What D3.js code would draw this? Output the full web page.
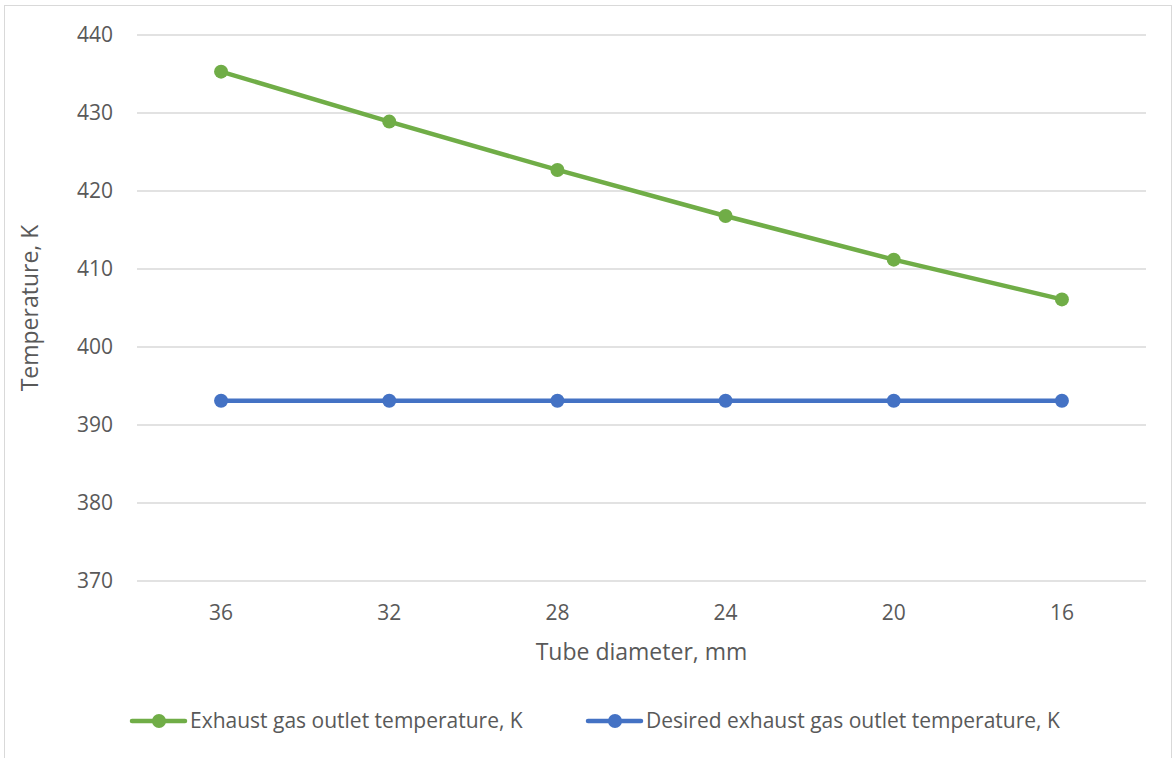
<!DOCTYPE html>
<html>
<head>
<meta charset="utf-8">
<script src="https://cdn.jsdelivr.net/npm/d3@7"></script>
<style>
  body { margin: 0; background: #fff; }
  svg { display: block; font-family: "Open Sans", "Liberation Sans", sans-serif; }
</style>
</head>
<body>
<div id="chart"></div>
<script>
let width = 1172;
let height = 758;

// data
let diameters = ["36", "32", "28", "24", "20", "16"];
let exhaustTemp = [435.3, 428.9, 422.7, 416.8, 411.2, 406.1];
let desiredTemp = [393.1, 393.1, 393.1, 393.1, 393.1, 393.1];
let yTicks = [370, 380, 390, 400, 410, 420, 430, 440];

let series = [
    {name: "Exhaust gas outlet temperature, K", values: exhaustTemp, color: "#70AD47"},
    {name: "Desired exhaust gas outlet temperature, K", values: desiredTemp, color: "#4472C4"}
];

let margin = {left: 137, right: 26, top: 35, bottom: 177};
let textColor = "#595959";

let svg = d3.select("#chart").append("svg")
    .attr("width", width)
    .attr("height", height);

// chart frame
svg.append("rect")
    .attr("x", 4.5).attr("y", 5.5)
    .attr("width", width - 5).attr("height", height)
    .attr("fill", "none")
    .attr("stroke", "#d9d9d9");

let x = d3.scaleBand()
    .domain(diameters)
    .range([margin.left, width - margin.right]);

let y = d3.scaleLinear()
    .domain([370, 440])
    .range([height - margin.bottom, margin.top]);

// gridlines
svg.append("g")
    .attr("stroke", "#d9d9d9")
    .attr("stroke-width", 1.3)
    .selectAll("line")
    .data(yTicks)
    .join("line")
    .attr("x1", margin.left)
    .attr("x2", width - margin.right)
    .attr("y1", d => y(d))
    .attr("y2", d => y(d));

// y axis labels
let yAxis = svg.append("g")
    .attr("transform", `translate(${margin.left - 8},0)`)
    .call(d3.axisLeft(y).tickValues(yTicks).tickSize(0).tickPadding(16));
yAxis.select(".domain").remove();
yAxis.selectAll("text")
    .attr("fill", textColor)
    .attr("font-size", 21)
    .attr("font-family", "Open Sans");

// x axis labels
let xAxis = svg.append("g")
    .attr("transform", `translate(0,${y(370)})`)
    .call(d3.axisBottom(x).tickSize(0).tickPadding(24));
xAxis.select(".domain").remove();
xAxis.selectAll("text")
    .attr("fill", textColor)
    .attr("font-size", 21)
    .attr("font-family", "Open Sans");

// axis titles
svg.append("text")
    .attr("x", (margin.left + width - margin.right) / 2)
    .attr("y", 660)
    .attr("text-anchor", "middle")
    .attr("fill", textColor)
    .attr("font-size", 23)
    .text("Tube diameter, mm");

svg.append("text")
    .attr("transform", `translate(38,${(y(370) + y(440)) / 2}) rotate(-90)`)
    .attr("text-anchor", "middle")
    .attr("fill", textColor)
    .attr("font-size", 23)
    .text("Temperature, K");

let line = d3.line()
    .x((d, i) => x(diameters[i]) + x.bandwidth() / 2)
    .y(d => y(d));

// series (blue drawn first, green on top)
for (const s of series.slice().reverse()) {
    let g = svg.append("g");
    g.append("path")
        .attr("d", line(s.values))
        .attr("fill", "none")
        .attr("stroke", s.color)
        .attr("stroke-width", 4.5)
        .attr("stroke-linejoin", "round");
    g.selectAll("circle")
        .data(s.values)
        .join("circle")
        .attr("cx", (d, i) => x(diameters[i]) + x.bandwidth() / 2)
        .attr("cy", d => y(d))
        .attr("r", 7)
        .attr("fill", s.color);
}

// legend
let legendX = [132, 588];
let legend = svg.append("g")
    .selectAll("g")
    .data(series)
    .join("g")
    .attr("transform", (d, i) => `translate(${legendX[i]},721)`);
legend.append("line")
    .attr("x1", 0).attr("x2", 53)
    .attr("stroke", d => d.color)
    .attr("stroke-width", 4.5)
    .attr("stroke-linecap", "round");
legend.append("circle")
    .attr("cx", 27).attr("r", 7)
    .attr("fill", d => d.color);
legend.append("text")
    .attr("x", 58)
    .attr("dy", "0.35em")
    .attr("fill", textColor)
    .attr("font-size", 21)
    .text(d => d.name);
</script>
</body>
</html>
